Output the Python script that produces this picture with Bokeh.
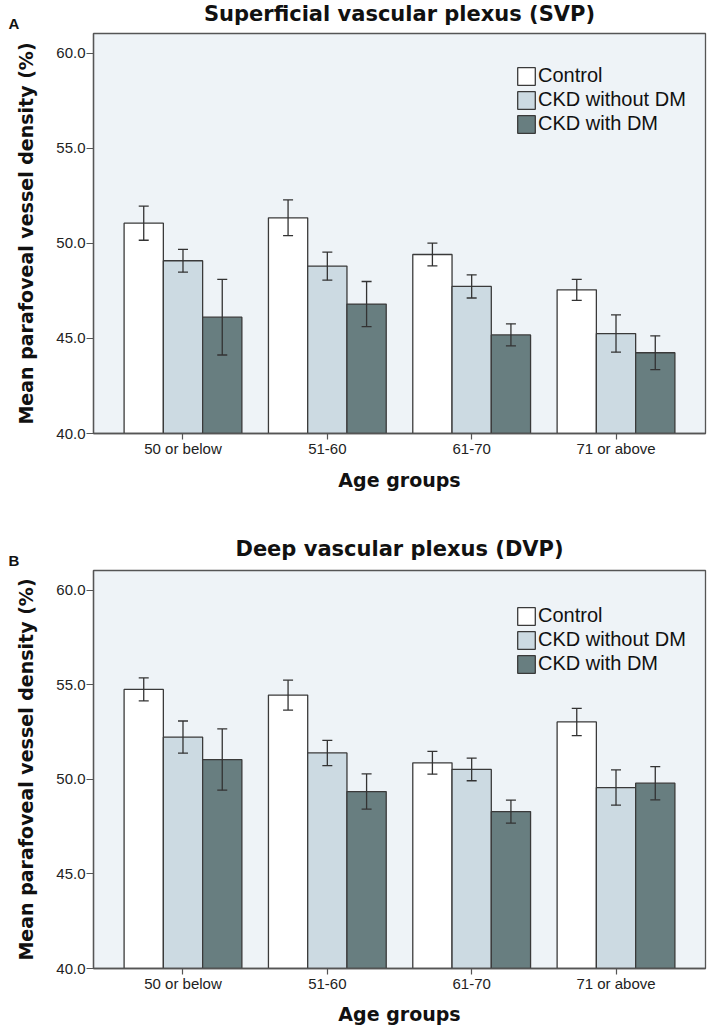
from bokeh.plotting import figure
from bokeh.models import (ColumnDataSource, FactorRange, FixedTicker, PrintfTickFormatter,
                          Whisker, TeeHead, Legend, LegendItem, Range1d)
from bokeh.core.properties import value
from bokeh.transform import dodge
from bokeh.layouts import column
from bokeh.embed import file_html
from bokeh.resources import INLINE

# ---------------- data ----------------
ages = ["50 or below", "51-60", "61-70", "71 or above"]
groups = ["Control", "CKD without DM", "CKD with DM"]

svp_control = [51.07, 51.35, 49.42, 47.56]
svp_control_err = [0.90, 0.94, 0.60, 0.55]
svp_nodm = [49.09, 48.81, 47.74, 45.26]
svp_nodm_err = [0.60, 0.74, 0.61, 0.98]
svp_dm = [46.12, 46.81, 45.19, 44.25]
svp_dm_err = [1.99, 1.19, 0.58, 0.89]

dvp_control = [54.76, 54.46, 50.88, 53.04]
dvp_control_err = [0.61, 0.79, 0.60, 0.72]
dvp_nodm = [52.24, 51.40, 50.53, 49.57]
dvp_nodm_err = [0.85, 0.67, 0.60, 0.93]
dvp_dm = [51.05, 49.36, 48.30, 49.80]
dvp_dm_err = [1.62, 0.93, 0.61, 0.88]

y_ticks = [40, 45, 50, 55, 60]
titles = ["Superficial vascular plexus (SVP)", "Deep vascular plexus (DVP)"]
letters = ["A", "B"]

# ---------------- style ----------------
FILLS = ["#FFFFFF", "#CCDAE2", "#687E80"]
BG = "#EEF3F7"
EDGE = "#3A3A3A"
AXIS = "#555555"
BOLD_FONT = "DejaVu Sans"
TICK_FONT = "'Liberation Sans Narrow', 'Liberation Sans', sans-serif"
LEG_FONT = "'Liberation Sans', Arial, sans-serif"
BAR_W = 0.272
OFFSETS = [-BAR_W, 0.0, BAR_W]
W = 709
FRAME_L, FRAME_R = 93, 4


def make_header(title, letter, height, title_from_top, letter_from_top):
    h = figure(width=W, height=height, x_range=Range1d(0, W), y_range=Range1d(0, height),
               output_backend="svg", toolbar_location=None,
               x_axis_location=None, y_axis_location=None,
               min_border_left=0, min_border_right=0, min_border_top=0, min_border_bottom=0)
    h.frame_align = False
    h.outline_line_color = None
    h.background_fill_color = "white"
    h.border_fill_color = "white"
    h.xgrid.visible = False
    h.ygrid.visible = False
    cx = FRAME_L + (W - FRAME_L - FRAME_R) / 2
    h.text(x=[cx], y=[height - title_from_top], text=[title],
           text_font=value(BOLD_FONT), text_font_style="bold", text_font_size="21px",
           text_align="center", text_baseline="middle", text_color="#111111")
    h.text(x=[8], y=[height - letter_from_top], text=[letter],
           text_font=value("Liberation Sans"), text_font_style="bold", text_font_size="15px",
           text_align="left", text_baseline="middle", text_color="#111111")
    return h


def make_panel(series, errs, height, frame_h, leg_y, label_standoff):
    p = figure(x_range=FactorRange(factors=ages, range_padding=0.12, range_padding_units="absolute"),
               y_range=(40, 61.05), width=W, height=height,
               output_backend="svg", toolbar_location=None,
               min_border_left=FRAME_L, min_border_right=FRAME_R, min_border_top=1,
               min_border_bottom=height - 1 - frame_h)
    p.frame_align = False
    p.background_fill_color = BG
    p.border_fill_color = "white"
    p.outline_line_color = AXIS
    p.outline_line_width = 1.3
    p.xgrid.visible = False
    p.ygrid.visible = False

    p.yaxis.ticker = FixedTicker(ticks=y_ticks)
    p.yaxis.formatter = PrintfTickFormatter(format="%.1f")
    p.yaxis.axis_label = "Mean parafoveal vessel density (%)"
    p.xaxis.axis_label = "Age groups"
    for ax in (p.xaxis[0], p.yaxis[0]):
        ax.axis_line_color = AXIS
        ax.axis_line_width = 1.3
        ax.major_tick_line_color = AXIS
        ax.major_tick_line_width = 1.2
        ax.major_tick_in = 0
        ax.major_tick_out = 7
        ax.minor_tick_line_color = None
        ax.major_label_text_font = TICK_FONT
        ax.major_label_text_font_size = "15px"
        ax.major_label_text_color = "#222222"
        ax.axis_label_text_font = BOLD_FONT
        ax.axis_label_text_font_style = "bold"
        ax.axis_label_text_color = "#111111"
    p.xaxis.axis_label_text_font_size = "19px"
    p.yaxis.axis_label_text_font_size = "19px"
    p.xaxis.major_tick_out = 6
    p.xaxis.major_label_standoff = 0
    p.xaxis.axis_label_standoff = label_standoff
    p.yaxis.major_label_standoff = 1
    p.yaxis.axis_label_standoff = 16

    items = []
    for i, g in enumerate(groups):
        vals = series[i]
        e = errs[i]
        src = ColumnDataSource(dict(age=ages, val=vals,
                                    upper=[v + d for v, d in zip(vals, e)],
                                    lower=[v - d for v, d in zip(vals, e)]))
        r = p.vbar(x=dodge("age", OFFSETS[i], range=p.x_range), top="val", bottom=40,
                   width=BAR_W, source=src, fill_color=FILLS[i], line_color=EDGE,
                   line_width=1.3)
        w = Whisker(base=dodge("age", OFFSETS[i], range=p.x_range), upper="upper",
                    lower="lower", source=src, line_color="#333333", line_width=1.3,
                    level="overlay",
                    upper_head=TeeHead(size=10, line_color="#333333", line_width=1.3),
                    lower_head=TeeHead(size=10, line_color="#333333", line_width=1.3))
        p.add_layout(w)
        items.append(LegendItem(label=g, renderers=[r]))

    leg = Legend(items=items, location=(422, leg_y), padding=0, spacing=1,
                 glyph_width=22, glyph_height=22, label_height=22, label_standoff=1,
                 margin=0, border_line_color=None, background_fill_alpha=0,
                 label_text_font=LEG_FONT, label_text_font_size="20px",
                 label_text_color="#111111")
    p.add_layout(leg)
    return p


h1 = make_header(titles[0], letters[0], 32, 13, 23)
p1 = make_panel([svp_control, svp_nodm, svp_dm],
                [svp_control_err, svp_nodm_err, svp_dm_err],
                height=498, frame_h=400, leg_y=298, label_standoff=9)
h2 = make_header(titles[1], letters[1], 39, 18, 30)
p2 = make_panel([dvp_control, dvp_nodm, dvp_dm],
                [dvp_control_err, dvp_nodm_err, dvp_dm_err],
                height=458, frame_h=401, leg_y=293, label_standoff=8)

layout = column(h1, p1, h2, p2, spacing=0)
open("out.html", "w").write(file_html(layout, INLINE))
